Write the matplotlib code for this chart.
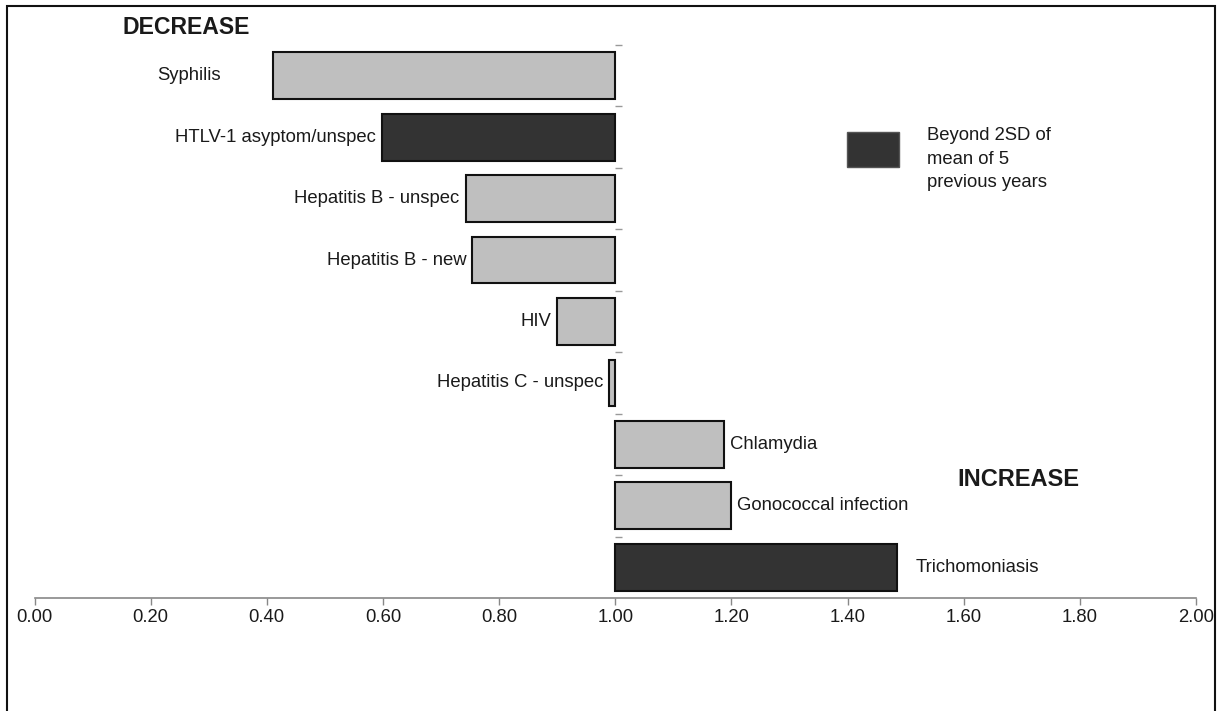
import numpy as np
import matplotlib
matplotlib.use('Agg')
import matplotlib.pyplot as plt
import matplotlib.patches as mpatches

params = {'font.family': 'Liberation Sans',
          'font.size': 13.3,
          'xtick.labelsize': 13.3,
          'text.color': '#1a1a1a',
          'xtick.color': '#888888',
          'xtick.labelcolor': '#1a1a1a'}
plt.rcParams.update(params)

# data (ratio vs mean of 5 previous years)
infections = ['Syphilis', 'HTLV-1 asyptom/unspec', 'Hepatitis B - unspec',
              'Hepatitis B - new', 'HIV', 'Hepatitis C - unspec',
              'Chlamydia', 'Gonococcal infection', 'Trichomoniasis']
ratio = [0.41, 0.598, 0.743, 0.754, 0.90, 0.99, 1.187, 1.199, 1.486]
beyond_2sd = [False, True, False, False, False, False, False, False, True]
xticks = [0.0, 0.2, 0.4, 0.6, 0.8, 1.0, 1.2, 1.4, 1.6, 1.8, 2.0]

# label gaps in points (Syphilis label sits further out)
label_gap = [37, 4.5, 4.5, 4.5, 4.5, 4.5, 4.5, 4.5, 13]

W, H = 1224, 711
fig = plt.figure(figsize=(W / 100, H / 100), dpi=100)
ax = fig.add_axes([34.5 / W, 1 - 598 / H, (1196 - 34.5) / W, (598 - 45) / H])

ypos = np.arange(len(infections))
widths = [r - 1.0 for r in ratio]
colors = ['#333333' if b else '#bfbfbf' for b in beyond_2sd]
ax.barh(ypos, widths, left=1.0, height=0.76, color=colors,
        edgecolor='#111111', linewidth=1.5, zorder=3)

for i, name in enumerate(infections):
    if ratio[i] < 1.0:
        ax.annotate(name, (ratio[i], ypos[i]), xytext=(-label_gap[i], 0),
                    textcoords='offset points', ha='right', va='center')
    else:
        ax.annotate(name, (ratio[i], ypos[i]), xytext=(label_gap[i], 0),
                    textcoords='offset points', ha='left', va='center')

ax.set_xlim(0, 2.0)
ax.set_ylim(len(infections) - 0.5, -0.5)
ax.set_xticks(xticks)
ax.set_xticklabels([f'{t:.2f}' for t in xticks])
ax.tick_params(axis='x', direction='out', length=5, width=1, pad=3)

ax.set_yticks(np.arange(-0.5, len(infections) - 1, 1))
ax.set_yticklabels([])
ax.spines['left'].set_position(('data', 1.0))
ax.spines['left'].set_linewidth(0)
ax.tick_params(axis='y', direction='in', length=5, width=1, color='#999999')
for s in ['top', 'right']:
    ax.spines[s].set_visible(False)
ax.spines['bottom'].set_color('#888888')
ax.spines['bottom'].set_linewidth(1.2)
ax.patch.set_alpha(0)

fig.text(122 / W, 1 - 33.5 / H, 'DECREASE', fontsize=16.6, fontweight='bold',
         va='baseline', ha='left')
fig.text(957 / W, 1 - 486 / H, 'INCREASE', fontsize=17, fontweight='bold',
         va='baseline', ha='left')

# legend
fig.patches.append(mpatches.Rectangle((847 / W, 1 - 167 / H), 52 / W, 35 / H,
                                      transform=fig.transFigure,
                                      facecolor='#333333', edgecolor='#555555',
                                      linewidth=1))
fig.text(927 / W, 1 - 127 / H, 'Beyond 2SD of\nmean of 5\nprevious years',
         va='top', ha='left', linespacing=1.5)

# outer frame
fig.patches.append(mpatches.Rectangle((7 / W, -0.02), (1215 - 7) / W, 1.02 - 6 / H,
                                      transform=fig.transFigure, fill=False,
                                      edgecolor='#111111', linewidth=1.5))

fig.savefig('out.png', dpi=100)
